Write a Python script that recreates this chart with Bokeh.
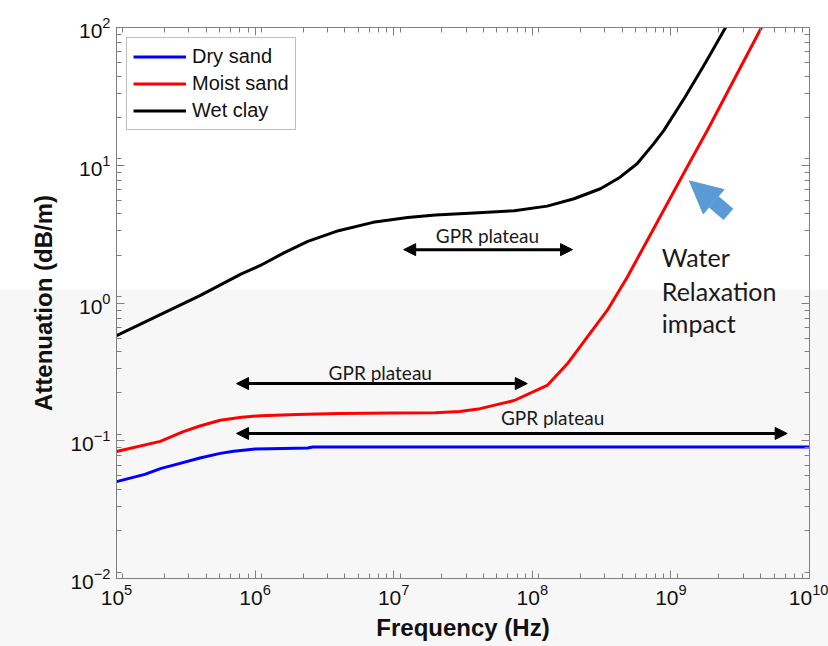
import numpy as np
from bokeh.plotting import figure
from bokeh.models import (LogAxis, LogTicker, Legend, LegendItem, Arrow,
                          NormalHead, Label)
from bokeh.embed import file_html
from bokeh.resources import INLINE

# ---------------- data ----------------
dry_freq = [1e5, 1.6e5, 2.1e5, 2.5e5, 4e5, 5.6e5, 7e5, 1e6, 1.6e6, 2.4e6, 2.6e6, 1e7, 1e8, 1e9, 1e10]
dry_att = [0.0505, 0.057, 0.063, 0.066, 0.075, 0.081, 0.084, 0.087, 0.088, 0.0885, 0.090,
           0.090, 0.090, 0.090, 0.090]

moist_freq = [1e5, 2.07e5, 3e5, 4e5, 5.6e5, 8e5, 1.1e6, 2e6, 4e6, 1e7, 2e7, 3e7, 4.2e7, 7.4e7,
              1.28e8, 1.79e8, 2.49e8, 3.47e8, 4.84e8, 6.75e8, 9.4e8, 1.31e9, 1.83e9, 2.6e9,
              4.5e9, 5.6e9]
moist_att = [0.0836, 0.099, 0.116, 0.128, 0.141, 0.148, 0.152, 0.155, 0.158, 0.159, 0.160, 0.163,
             0.171, 0.196, 0.252, 0.362, 0.565, 0.883, 1.54, 2.84, 5.25, 9.7, 17.9, 35.0,
             100.0, 150.0]

clay_freq = [1e5, 2e5, 4e5, 7.9e5, 1.1e6, 1.6e6, 2.4e6, 4e6, 7.1e6, 1.26e7, 2e7, 3.8e7, 7.4e7,
             1.28e8, 2e8, 3.1e8, 4.3e8, 5.7e8, 7.5e8, 8.9e8, 1.26e9, 1.78e9, 2.48e9, 2.8e9]
clay_att = [0.58, 0.81, 1.13, 1.62, 1.88, 2.3, 2.8, 3.35, 3.85, 4.18, 4.35, 4.5, 4.68,
            5.05, 5.71, 6.75, 8.19, 10.25, 14.3, 17.9, 31.0, 55.7, 100.0, 125.0]

series_names = ["Dry sand", "Moist sand", "Wet clay"]
series_colors = ["#0000ff", "#ff0000", "#000000"]

# annotation positions (data coordinates)
plateau_text = "GPR plateau"
plateau_label_pos = [(4.75e7, 3.09), (8.0e6, 0.313), (1.4e8, 0.1476)]
plateau_arrows = [(1.18e7, 1.95e8, 2.44), (7.35e5, 9.2e7, 0.26), (7.35e5, 6.9e9, 0.113)]
impact_lines = ["Water", "Relaxation", "impact"]
impact_x = 8.6e8
impact_y = [2.14, 1.23, 0.72]
blue_arrow = (2.6e9, 4.4, 1.36e9, 7.7)

# ---------------- figure ----------------
AX = "#7f7f7f"
p = figure(width=828, height=646, frame_width=693, frame_height=551,
           x_axis_type="log", y_axis_type="log",
           x_range=(1e5, 1e10), y_range=(1e-2, 1e2),
           output_backend="svg", toolbar_location=None,
           min_border_left=116, min_border_right=19, min_border_top=27, min_border_bottom=68)
p.border_fill_color = None
p.background_fill_color = None
p.styles = {"background": "linear-gradient(to bottom, #ffffff 0px, #ffffff 290px, #f7f7f7 290px, #f7f7f7 646px)"}
p.outline_line_color = AX
p.xgrid.visible = False
p.ygrid.visible = False

def style_axis(ax, labels=True):
    ax.ticker = LogTicker(desired_num_ticks=6, num_minor_ticks=9)
    ax.axis_line_color = AX
    ax.major_tick_line_color = AX
    ax.minor_tick_line_color = AX
    ax.major_tick_in = 8
    ax.major_tick_out = 0
    ax.minor_tick_in = 5
    ax.minor_tick_out = 0
    ax.major_label_text_font = "Liberation Sans"
    ax.major_label_text_font_size = "21px"
    ax.major_label_text_color = "#111111" if labels else None
    ax.axis_label_text_font = "Liberation Sans"
    ax.axis_label_text_font_style = "bold"
    ax.axis_label_text_font_size = "24px"
    ax.axis_label_text_color = "#111111"

style_axis(p.xaxis[0])
style_axis(p.yaxis[0])
p.xaxis.axis_label = "Frequency (Hz)"
p.yaxis.axis_label = "Attenuation (dB/m)"
p.xaxis.major_label_standoff = 5
p.yaxis.major_label_standoff = 6
p.xaxis.axis_label_standoff = 6
p.yaxis.axis_label_standoff = 10

top_ax = LogAxis()
right_ax = LogAxis()
style_axis(top_ax, labels=False)
style_axis(right_ax, labels=False)
top_ax.major_label_text_font_size = "0px"
right_ax.major_label_text_font_size = "0px"
top_ax.major_label_standoff = 0
right_ax.major_label_standoff = 0
p.add_layout(top_ax, "above")
p.add_layout(right_ax, "right")

# ---------------- curves ----------------
r_dry = p.line(dry_freq, dry_att, line_color=series_colors[0], line_width=3, line_join="round")
r_moist = p.line(moist_freq, moist_att, line_color=series_colors[1], line_width=3, line_join="round")
r_clay = p.line(clay_freq, clay_att, line_color=series_colors[2], line_width=3, line_join="round")

legend = Legend(items=[LegendItem(label=series_names[0], renderers=[r_dry]),
                       LegendItem(label=series_names[1], renderers=[r_moist]),
                       LegendItem(label=series_names[2], renderers=[r_clay])],
                location="top_left")
legend.margin = 10
legend.padding = 6
legend.spacing = 2
legend.glyph_width = 53
legend.glyph_height = 25
legend.label_height = 25
legend.label_standoff = 6
legend.label_text_font = "Liberation Sans"
legend.label_text_font_size = "20px"
legend.label_text_color = "#111111"
legend.border_line_color = AX
legend.border_line_width = 1
legend.background_fill_color = "#ffffff"
legend.background_fill_alpha = 1.0
p.add_layout(legend)

# ---------------- annotations ----------------
for (x0, x1, yy) in plateau_arrows:
    p.add_layout(Arrow(x_start=x0, y_start=yy, x_end=x1, y_end=yy,
                       line_color="black", line_width=3,
                       start=NormalHead(size=12, fill_color="black", line_color="black", line_width=1),
                       end=NormalHead(size=12, fill_color="black", line_color="black", line_width=1)))
for (lx, ly) in plateau_label_pos:
    p.add_layout(Label(x=lx, y=ly, text=plateau_text, text_align="center", text_baseline="middle",
                       text_font="Lato", text_font_size="19px", text_color="#1a1a1a"))
for txt, yy in zip(impact_lines, impact_y):
    p.add_layout(Label(x=impact_x, y=yy, text=txt, text_align="left", text_baseline="middle",
                       text_font="Lato", text_font_size="25px", text_color="#1a1a1a"))

bx0, by0, bx1, by1 = blue_arrow
p.add_layout(Arrow(x_start=bx0, y_start=by0, x_end=bx1, y_end=by1,
                   line_color="#5b9bd5", line_width=15,
                   end=NormalHead(size=32, fill_color="#5b9bd5", line_color="#5b9bd5", line_width=1)))

open("out.html", "w").write(file_html(p, INLINE))
